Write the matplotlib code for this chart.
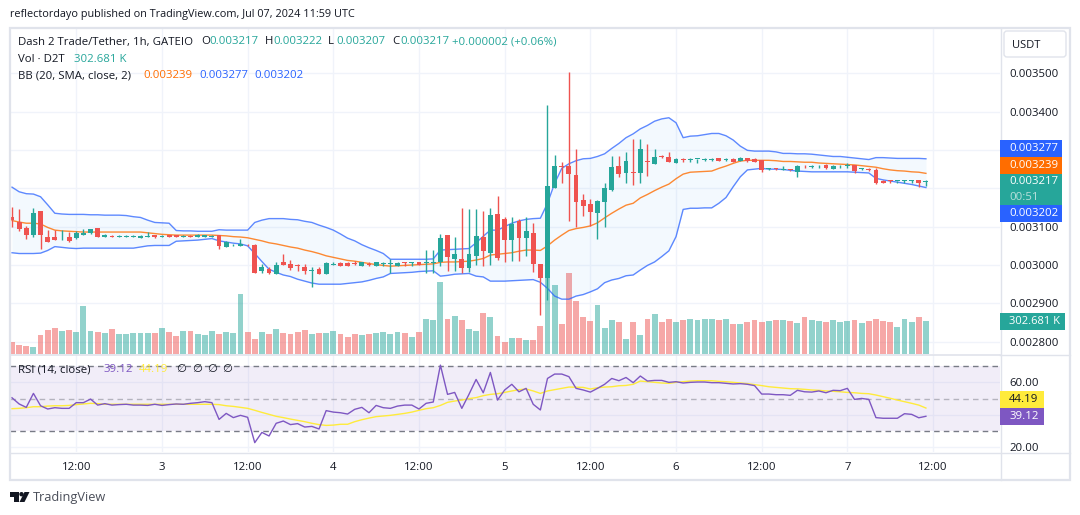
import numpy as np
import matplotlib
matplotlib.use("Agg")
import matplotlib.pyplot as plt
from matplotlib.patches import Rectangle, Polygon, Circle, FancyBboxPatch

plt.rcParams['font.family'] = ['Open Sans', 'DejaVu Sans']

# prices are read in millionths of USDT
opens = [3125,3112,3097,3077,3141,3073,3073,3064,3073,3071,
         3079,3084,3097,3073,3076,3074,3074,3074,3071,3074,
         3078,3074,3077,3077,3074,3076,3073,3073,3074,3078,
         3047,3051,3050,3052,3052,2984,2990,2977,3008,3003,
         2998,2995,2985,2990,2977,3000,3005,3005,3005,2997,
         3001,2997,3002,3002,2997,3008,3005,3008,3006,3006,
         3008,3078,3016,3016,2992,3023,3073,3031,3133,3120,
         3065,3115,3070,3083,3003,2966,3201,3258,3258,3235,
         3170,3159,3136,3164,3196,3258,3240,3243,3240,3271,
         3264,3284,3282,3266,3276,3275,3276,3274,3274,3278,
         3274,3276,3270,3278,3276,3274,3250,3251,3249,3248,
         3243,3258,3256,3257,3260,3250,3257,3259,3261,3250,
         3249,3248,3219,3219,3218,3218,3218,3222,3217]
highs = [3150,3146,3102,3149,3141,3091,3091,3091,3087,3089,
         3094,3094,3097,3081,3077,3078,3077,3078,3079,3086,
         3078,3078,3078,3078,3078,3077,3081,3078,3078,3078,
         3063,3055,3068,3055,3055,3003,2994,3008,3029,3013,
         3003,3003,2995,2995,3008,3008,3008,3008,3010,3008,
         3008,3008,3008,3017,3008,3008,3007,3008,3039,3039,
         3081,3078,3073,3149,3146,3146,3141,3149,3180,3125,
         3125,3120,3125,3110,3003,3418,3287,3269,3504,3303,
         3185,3172,3170,3214,3284,3284,3295,3329,3329,3316,
         3303,3287,3295,3279,3279,3279,3276,3278,3278,3278,
         3278,3278,3282,3279,3278,3274,3254,3254,3257,3249,
         3261,3261,3260,3261,3263,3261,3261,3266,3261,3253,
         3253,3254,3222,3222,3219,3222,3222,3222,3222]
lows = [3100,3090,3069,3074,3042,3060,3064,3064,3061,3067,
        3079,3082,3073,3073,3073,3073,3073,3073,3071,3073,
        3071,3073,3073,3073,3073,3073,3073,3073,3073,3042,
        3047,3050,3050,3050,2979,2979,2977,2977,3000,2987,
        2984,2977,2943,2977,2977,3000,2997,2997,3000,2997,
        2997,2997,2997,2979,2997,2997,2997,3000,2979,2979,
        2997,2984,2984,2979,2982,3000,2997,3000,3013,3008,
        3010,3010,3023,2982,2869,2909,3201,3214,3115,3099,
        3128,3102,3068,3099,3193,3230,3214,3209,3214,3232,
        3264,3279,3269,3266,3269,3269,3267,3271,3271,3272,
        3271,3268,3270,3269,3268,3243,3248,3248,3249,3246,
        3230,3254,3253,3254,3251,3250,3254,3253,3240,3248,
        3245,3211,3215,3215,3214,3215,3215,3204,3207]
closes = [3117,3094,3079,3136,3077,3060,3066,3065,3063,3084,
          3084,3094,3073,3078,3073,3076,3076,3076,3076,3076,
          3073,3076,3073,3073,3076,3074,3077,3078,3076,3050,
          3060,3052,3055,3051,2979,2995,2979,3000,3000,2992,
          2997,2984,2987,2977,3005,3003,2997,2997,3003,3008,
          3000,3008,3003,3003,3005,3006,3007,3000,3008,3008,
          3070,3021,3029,2992,3029,3076,3036,3130,3018,3065,
          3108,3070,3089,3003,2966,3206,3258,3256,3237,3164,
          3154,3138,3167,3201,3256,3237,3271,3240,3303,3269,
          3282,3282,3269,3277,3274,3276,3276,3275,3275,3272,
          3275,3269,3279,3270,3269,3249,3251,3250,3250,3247,
          3258,3257,3257,3258,3253,3258,3258,3260,3245,3251,
          3248,3214,3215,3218,3219,3219,3219,3215,3217]

# volume in thousands of D2T
volumes = [110,83,73,64,174,220,238,211,220,202,
           440,211,202,193,229,183,183,193,193,193,
           193,238,202,165,211,211,183,174,211,183,
           202,193,550,202,138,202,183,229,193,183,
           202,220,183,193,193,211,183,156,183,174,
           183,193,202,183,202,193,156,202,321,312,
           660,321,348,312,229,211,376,339,165,110,
           147,147,128,128,257,752,633,275,743,486,
           339,303,449,238,312,293,138,293,174,321,
           367,293,321,293,312,321,312,321,321,312,
           321,275,275,293,312,293,303,312,312,303,
           284,339,312,303,293,312,293,303,312,284,
           303,321,303,293,248,321,293,339,303]

bb_upper = [3203,3191,3186,3185,3178,3157,3135,3133,3132,3132,
            3132,3131,3131,3130,3130,3130,3129,3126,3124,3117,
            3111,3110,3109,3090,3089,3089,3088,3088,3088,3092,
            3091,3091,3091,3091,3111,3117,3121,3121,3121,3119,
            3118,3114,3111,3104,3098,3091,3081,3070,3063,3053,
            3045,3038,3030,3015,3015,3015,3015,3015,3015,3016,
            3039,3040,3041,3042,3043,3058,3075,3091,3091,3100,
            3109,3115,3119,3121,3122,3161,3213,3252,3264,3272,
            3277,3278,3283,3290,3304,3317,3332,3342,3355,3364,
            3375,3381,3384,3371,3332,3336,3337,3340,3343,3343,
            3337,3326,3310,3299,3297,3297,3297,3295,3291,3291,
            3290,3290,3289,3287,3285,3283,3283,3281,3279,3277,
            3275,3280,3280,3279,3278,3278,3278,3278,3277]
bb_mid = [3116,3112,3109,3109,3107,3098,3091,3089,3088,3087,
          3086,3086,3086,3086,3086,3086,3086,3086,3086,3084,
          3082,3080,3079,3078,3078,3078,3078,3078,3078,3077,
          3076,3074,3073,3071,3067,3063,3058,3055,3051,3047,
          3044,3039,3035,3030,3024,3020,3016,3012,3010,3007,
          3004,3001,2999,2997,2998,2999,3000,3001,3002,3003,
          3007,3008,3008,3009,3010,3013,3017,3026,3028,3030,
          3032,3036,3039,3039,3038,3050,3065,3078,3090,3095,
          3098,3102,3110,3123,3135,3146,3156,3161,3175,3184,
          3194,3203,3211,3225,3237,3242,3243,3244,3245,3252,
          3258,3265,3271,3273,3273,3273,3273,3272,3270,3270,
          3269,3268,3268,3266,3265,3264,3263,3262,3261,3259,
          3257,3255,3251,3248,3246,3245,3243,3242,3239]
bb_lower = [3032,3030,3030,3030,3031,3038,3048,3046,3044,3043,
            3044,3044,3044,3044,3044,3044,3044,3044,3047,3050,
            3051,3051,3051,3062,3063,3064,3065,3067,3069,3063,
            3060,3057,3055,3050,3030,3009,2989,2981,2974,2970,
            2963,2958,2953,2950,2950,2950,2950,2952,2954,2956,
            2960,2965,2969,2978,2979,2980,2981,2983,2984,2985,
            2971,2973,2976,2977,2978,2971,2969,2958,2958,2958,
            2959,2960,2961,2962,2955,2939,2919,2911,2911,2919,
            2923,2930,2938,2954,2961,2965,2972,2974,2987,2999,
            3008,3022,3037,3074,3145,3148,3148,3149,3149,3161,
            3176,3204,3230,3248,3250,3252,3250,3250,3249,3247,
            3245,3244,3243,3243,3243,3243,3243,3243,3242,3241,
            3240,3226,3222,3219,3216,3213,3210,3206,3202]

rsi = [50.5,46.7,44.6,53.2,45.6,43.6,44.4,44.0,44.0,47.5,
       47.5,49.7,46.0,46.9,46.0,46.3,46.5,46.0,46.0,45.8,
       46.5,45.8,46.3,46.7,46.5,47.1,47.5,48.1,47.5,37.2,
       40.9,38.3,39.7,38.5,22.9,29.2,27.0,34.8,36.2,34.0,
       34.6,32.5,32.9,31.3,42.6,41.7,41.3,40.5,43.4,44.6,
       41.3,45.8,44.4,44.0,45.4,46.0,46.0,43.6,47.1,47.9,
       70.6,52.6,53.8,44.0,52.6,61.8,53.6,66.1,49.1,55.3,
       58.8,54.2,56.3,46.5,43.0,62.4,65.1,65.1,63.5,56.3,
       55.3,54.0,56.3,58.8,62.4,61.0,63.0,59.8,63.9,60.8,
       61.2,61.2,60.0,60.4,59.6,60.0,60.2,60.2,59.8,59.8,
       59.4,59.0,59.2,58.8,58.0,52.8,52.8,52.4,52.4,52.0,
       55.1,54.2,54.0,54.7,53.6,55.1,54.9,56.3,49.5,50.1,
       49.5,38.3,37.9,37.9,37.9,40.7,40.3,38.2,39.12]
rsi_ma = [43.8,44.0,44.4,45.0,45.0,45.4,45.6,45.6,45.8,46.3,
          46.7,47.1,46.9,46.5,46.5,46.5,46.5,46.5,46.5,46.5,
          46.5,46.5,46.5,46.5,46.5,46.5,46.5,46.5,46.5,46.3,
          45.6,45.2,44.6,44.0,42.8,41.5,40.3,39.1,38.3,37.4,
          36.6,35.8,34.8,34.0,33.5,33.7,34.2,34.2,35.8,37.0,
          38.0,38.9,39.3,39.7,40.3,40.9,41.7,42.8,43.8,44.4,
          45.8,47.7,48.5,49.1,50.0,50.6,51.8,52.6,53.0,53.8,
          54.7,55.5,55.9,54.7,53.2,54.7,55.5,56.3,57.1,57.0,
          56.9,55.9,56.7,57.1,57.3,57.9,58.1,58.8,60.8,60.4,
          60.0,59.6,59.4,60.0,60.4,60.8,61.0,61.0,61.0,60.6,
          60.4,60.0,59.6,59.2,58.6,58.0,57.3,56.9,56.5,56.1,
          56.0,55.7,55.3,55.1,54.7,54.5,54.2,53.8,53.6,53.2,
          53.0,52.2,51.2,50.2,49.1,48.1,47.1,46.0,44.19]

price_ticks = [3500,3400,3300,3200,3100,3000,2900,2800]
# 0.003300 and 0.003200 are hidden behind the value tags in the picture
price_labels = ['0.003500','0.003400','','','0.003100','0.003000','0.002900','0.002800']
rsi_ticks = [60,40,20]
rsi_labels = ['60.00','','20.00']
time_ticks = [9,21,33,45,57,69,81,93,105,117,129]
time_labels = ['12:00','3','12:00','4','12:00','5','12:00','6','12:00','7','12:00']

GREEN = '#26a69a'
RED = '#ef5350'
BLUE = '#2962ff'
ORANGE = '#ff6d00'
PURPLE = '#7e57c2'
YELLOW = '#ffeb3b'
GRID = '#f0f3fa'
BORDER = '#e0e3eb'
TEXT = '#131722'

W, H = 1080, 515
FS = 8.2


def pane(fig, left, top, right, bottom, **kw):
    return fig.add_axes([left / W, 1 - bottom / H, (right - left) / W, (bottom - top) / H], **kw)


def bare(ax):
    ax.patch.set_visible(False)
    for s in ax.spines.values():
        s.set_visible(False)
    ax.set_xticks([])
    ax.set_yticks([])


def draw_price_pane(fig, xlim):
    x = np.arange(len(closes))
    o, h, l, c = [np.array(a, dtype=float) for a in (opens, highs, lows, closes)]
    up = c >= o
    colors = np.where(up, GREEN, RED)
    ylim = (2768, 3618)

    # grid and price ticks sit on the bottom layer
    ax_grid = pane(fig, 10, 28, 1000, 354)
    ax_grid.set_xlim(xlim)
    ax_grid.set_ylim(ylim)
    ax_grid.set_xticks(time_ticks)
    ax_grid.set_xticklabels([])
    ax_grid.set_yticks(price_ticks)
    ax_grid.set_yticklabels(price_labels, fontsize=FS, color=TEXT)
    ax_grid.yaxis.tick_right()
    ax_grid.tick_params(length=0, pad=7)
    ax_grid.grid(True, color=GRID, lw=1)
    ax_grid.set_axisbelow(True)
    for s in ax_grid.spines.values():
        s.set_visible(False)

    ax_vol = pane(fig, 10, 28, 1000, 354)
    bare(ax_vol)
    ax_vol.set_xlim(xlim)
    ax_vol.set_ylim(0, 2989)
    ax_vol.bar(x, volumes, width=0.82, color=colors, alpha=0.5, lw=0)

    ax = pane(fig, 10, 28, 1000, 354)
    bare(ax)
    ax.set_xlim(xlim)
    ax.set_ylim(ylim)
    ax.fill_between(x, bb_lower, bb_upper, color='#2196f3', alpha=0.05, lw=0, zorder=1)
    ax.plot(x, bb_upper, color=BLUE, lw=1, alpha=0.75, zorder=2)
    ax.plot(x, bb_lower, color=BLUE, lw=1, alpha=0.75, zorder=2)
    ax.plot(x, bb_mid, color=ORANGE, lw=1, alpha=0.8, zorder=2)
    ax.vlines(x, l, h, colors=colors, lw=1, zorder=3)
    ax.bar(x, np.maximum(np.abs(c - o), 2.4), bottom=np.minimum(o, c), width=0.68,
           color=colors, lw=0, zorder=4)


def draw_rsi_pane(fig, xlim):
    x = np.arange(len(rsi))
    # y = 398.6 at RSI 50, 1.625 px per point
    ylim = (50 - (452 - 398.6) / 1.625, 50 + (398.6 - 355) / 1.625)
    ax = pane(fig, 10, 355, 1000, 452)
    ax.set_xlim(xlim)
    ax.set_ylim(ylim)
    ax.set_xticks(time_ticks)
    ax.set_xticklabels(time_labels, fontsize=FS, color=TEXT)
    ax.set_yticks(rsi_ticks)
    ax.set_yticklabels(rsi_labels, fontsize=FS, color=TEXT)
    ax.yaxis.tick_right()
    ax.tick_params(length=0)
    ax.tick_params(axis='y', pad=7)
    ax.tick_params(axis='x', pad=7)
    ax.grid(True, color=GRID, lw=1)
    ax.set_axisbelow(True)
    for s in ax.spines.values():
        s.set_visible(False)
    ax.axhspan(30, 70, color=PURPLE, alpha=0.1, lw=0, zorder=1)
    ax.axhline(70, color='#787b86', lw=1, ls=(0, (4, 3)), zorder=2)
    ax.axhline(50, color='#787b86', lw=1, ls=(0, (4, 3)), alpha=0.5, zorder=2)
    ax.axhline(30, color='#787b86', lw=1, ls=(0, (4, 3)), zorder=2)
    ax.plot(x, rsi_ma, color=YELLOW, lw=1, zorder=3)
    ax.plot(x, rsi, color=PURPLE, lw=1, zorder=4)


def box(ov, x0, y0, x1, y1, color):
    ov.add_patch(Rectangle((x0, y0), x1 - x0, y1 - y0, color=color, lw=0, zorder=5))


def label(ov, x, y, s, color=TEXT, size=FS, ha='left', **kw):
    ov.text(x, y, s, color=color, fontsize=size, ha=ha, va='center', zorder=6, **kw)


def draw_overlay(fig):
    ov = pane(fig, 0, 0, W, H)
    bare(ov)
    ov.set_xlim(0, W)
    ov.set_ylim(H, 0)
    ov.set_zorder(10)

    # frame
    ov.add_patch(Rectangle((9.5, 27.5), 1060, 452, fill=False, ec=BORDER, lw=1.6, zorder=1))
    ov.plot([10, 1070], [452.5, 452.5], color=BORDER, lw=1, zorder=1)
    ov.plot([10, 1000], [354.5, 354.5], color=BORDER, lw=1.2, zorder=1)
    ov.plot([1000.5, 1000.5], [28, 480], color=BORDER, lw=1, zorder=1)
    ov.plot([1000, 1070], [354.5, 354.5], color=BORDER, lw=1, zorder=1)
    ov.add_patch(FancyBboxPatch((1006.5, 33.5), 57, 21, boxstyle='round,pad=2.5,rounding_size=3',
                                fill=False, ec=BORDER, lw=1, zorder=2))
    label(ov, 1026.5, 45, 'USDT', ha='center', size=8)

    label(ov, 10, 14, 'reflectordayo published on TradingView.com, Jul 07, 2024 11:59 UTC', size=7.8)

    # legend rows
    label(ov, 18, 42, 'Dash 2 Trade/Tether, 1h, GATEIO')
    for xh, xv, key, val in [(201, 209, 'O', '0.003217'), (265, 273, 'H', '0.003222'),
                             (328, 336, 'L', '0.003207'), (392, 400, 'C', '0.003217')]:
        label(ov, xh, 42, key)
        label(ov, xv, 42, val, color=GREEN)
    label(ov, 452, 42, '+0.000002 (+0.06%)', color=GREEN)
    label(ov, 18, 59, 'Vol \u00b7 D2T')
    label(ov, 74, 59, '302.681 K', color=GREEN)
    label(ov, 18, 76, 'BB (20, SMA, close, 2)')
    label(ov, 143, 76, '0.003239', color=ORANGE)
    label(ov, 199, 76, '0.003277', color=BLUE)
    label(ov, 254, 76, '0.003202', color=BLUE)
    label(ov, 18, 370, 'RSI (14, close)')
    label(ov, 103, 370, '39.12', color=PURPLE)
    label(ov, 139, 370, '44.19', color=YELLOW)
    for xn in (176, 192, 207, 222):
        label(ov, xn, 370, '\u2205')

    # last value tags on the right scale
    box(ov, 1000, 140, 1062, 157, BLUE)
    label(ov, 1009, 148.5, '0.003277', color='white')
    box(ov, 1000, 157, 1062, 174, ORANGE)
    label(ov, 1009, 165.5, '0.003239', color='white')
    box(ov, 1000, 174, 1062, 205, GREEN)
    label(ov, 1009, 181.5, '0.003217', color='white')
    label(ov, 1009, 197.5, '00:51', color='#b8e0dc')
    box(ov, 1000, 205, 1062, 222, BLUE)
    label(ov, 1009, 213.5, '0.003202', color='white')
    box(ov, 1000, 313, 1065, 330, GREEN)
    label(ov, 1009, 321.5, '302.681 K', color='white', size=8)
    box(ov, 1000, 391, 1044, 408, YELLOW)
    label(ov, 1009, 399.5, '44.19', color=TEXT)
    box(ov, 1000, 408, 1044, 425, PURPLE)
    label(ov, 1009, 416.5, '39.12', color='white')

    # TradingView logo
    ov.add_patch(Polygon([(10, 492), (18.5, 492), (18.5, 502), (14, 502), (14, 496.5), (10, 496.5)],
                         color=TEXT, lw=0))
    ov.add_patch(Circle((21.5, 494.2), 2.2, color=TEXT, lw=0))
    ov.add_patch(Polygon([(24.5, 492), (29.5, 492), (24.5, 502), (19.5, 502)], color=TEXT, lw=0))
    label(ov, 33, 497.5, 'TradingView', color='#4a4e59', size=9.2)


def main():
    fig = plt.figure(figsize=(W / 100, H / 100), dpi=100, facecolor='white')
    # bar i sits at 12 + 7.14 * i pixels
    xlim = ((10 - 12) / 7.14, (1000 - 12) / 7.14)
    draw_price_pane(fig, xlim)
    draw_rsi_pane(fig, xlim)
    draw_overlay(fig)
    fig.savefig('out.png', dpi=100, facecolor='white')


if __name__ == "__main__":
    main()
